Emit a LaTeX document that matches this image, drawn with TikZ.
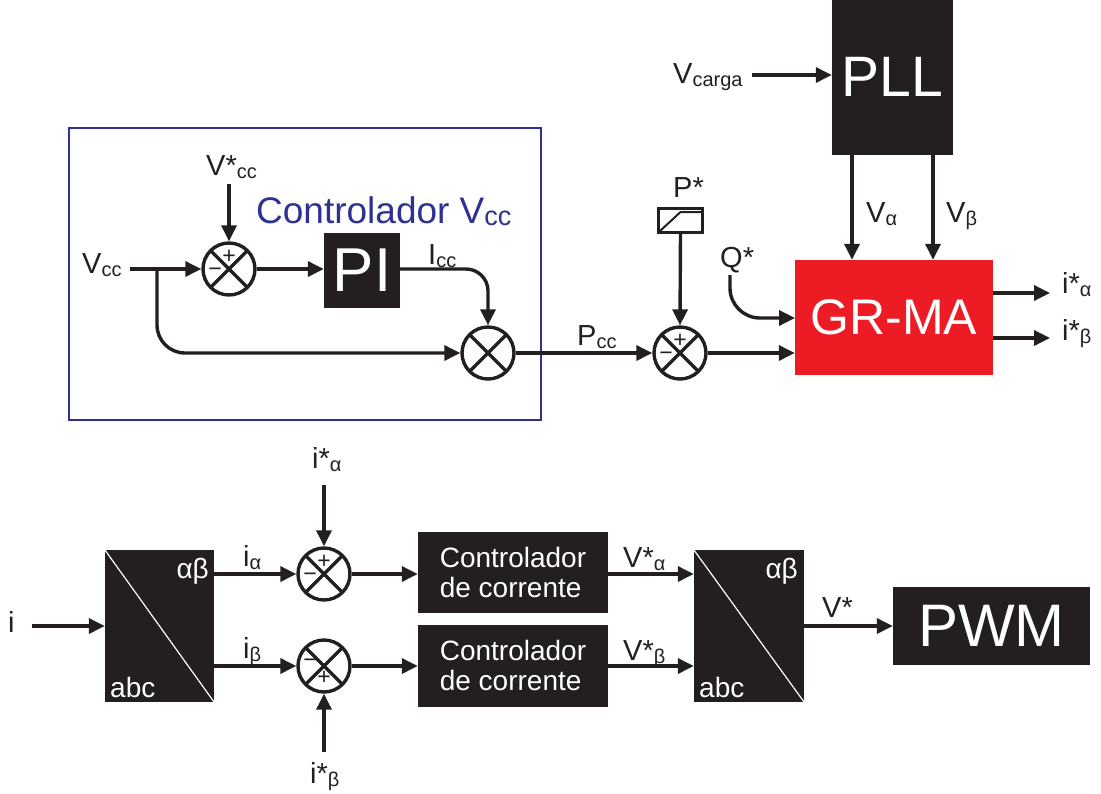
\documentclass[tikz,border=0pt]{standalone}
\usepackage{fontspec}
\setmainfont{Liberation Sans}
\usetikzlibrary{arrows.meta,calc}
\definecolor{blk}{HTML}{231F20}
\definecolor{rd}{HTML}{ED1C24}
\definecolor{bl}{HTML}{2E3192}
\newcommand{\mysub}[1]{\raisebox{-3pt}{\fontsize{20}{20}\selectfont #1}}
\begin{document}
\begin{tikzpicture}[x=1pt,y=-1pt,
  line/.style={line width=3.4pt, draw=blk},
  arr/.style={line, -{Triangle[length=16pt,width=15pt]}},
  sum/.style={circle, draw=blk, line width=3.4pt, minimum size=52pt, inner sep=0pt,
    path picture={\draw[blk,line width=3.4pt] (path picture bounding box.north west) -- (path picture bounding box.south east)
      (path picture bounding box.north east) -- (path picture bounding box.south west);}},
  blkbox/.style={fill=blk, draw=none, text=white, inner sep=0pt},
  lbl/.style={font=\fontsize{29}{30}\selectfont, inner sep=0pt, anchor=base west, text=blk},
  wlbl/.style={font=\fontsize{28}{30}\selectfont, inner sep=0pt, text=white},
  sign/.style={font=\fontsize{23}{23}\selectfont, inner sep=0pt, text=blk}
]
\useasboundingbox (0,0) rectangle (1101,793);

% ---------- upper part ----------
\node[draw=bl, line width=1.3pt, minimum width=472pt, minimum height=292pt, inner sep=0pt] (frame) at (305,274) {};
\node[anchor=base west, inner sep=0pt, text=bl, font=\fontsize{37}{40}\selectfont] (ctitle) at (256,223)
  {Controlador V\raisebox{-2pt}{\fontsize{27}{27}\selectfont cc}};

\node[sum] (s1) at (229,269) {};
\node[sum] (s2) at (488,353) {};
\node[sum] (s3) at (680,353) {};
\node[sign] (s1p) at ($(s1)+(0,-12)$) {+};
\node[sign] (s1m) at ($(s1)+(-14,3)$) {−};
\node[sign] (s3p) at ($(s3)+(0,-12)$) {+};
\node[sign] (s3m) at ($(s3)+(-14,3)$) {−};

\node[blkbox, minimum width=76pt, minimum height=75pt, font=\fontsize{62}{62}\selectfont] (pi) at (362,270.5) {PI};
\node[draw=blk, line width=3pt, fill=white, minimum width=44pt, minimum height=24pt, inner sep=0pt] (sat) at (680.5,220.5) {};
\draw[blk, line width=2pt] ($(sat.south west)+(3,-3)$) -- ($(sat.north)+(0,5)$) -- ($(sat.north east)+(-2,5)$);

\node[fill=rd, minimum width=198pt, minimum height=115pt, inner sep=0pt, text=white, font=\fontsize{50}{50}\selectfont] (gr) at (894,317.5) {GR-MA};
\node[blkbox, minimum width=121pt, minimum height=157pt, font=\fontsize{57}{57}\selectfont] (pll) at (892.5,76.5) {PLL};

% labels upper
\node[lbl] (lvcc) at (82,273) {V\mysub{cc}};
\node[lbl] (lvref) at (206,175) {V*\mysub{cc}};
\node[lbl] (licc) at (428,264) {I\mysub{cc}};
\node[lbl] (lpcc) at (577,345) {P\mysub{cc}};
\node[lbl] (lpref) at (673,197) {P*};
\node[lbl] (lqref) at (720,267) {Q*};
\node[lbl] (lva) at (866,222) {V\mysub{α}};
\node[lbl] (lvb) at (946,222) {V\mysub{β}};
\node[lbl] (lvcar) at (673,83) {V\mysub{carga}};
\node[lbl] (lia) at (1062,293) {i*\mysub{α}};
\node[lbl] (lib) at (1062,340) {i*\mysub{β}};

\coordinate (vin) at (130,269);
\coordinate (br) at (157,269);
\coordinate (vr0) at (229,184);
\coordinate (q0) at (730,275);
\coordinate (q1) at (795,318);
\coordinate (oa) at (1050,293);
\coordinate (ob) at (1050,338);
\coordinate (xa) at (852,0);
\coordinate (xb) at (933,0);
\coordinate (vc0) at (752,75);

\draw[arr] (vin) -- (s1.west);
\draw[arr] (vr0) -- (s1.north);
\draw[arr, rounded corners=28pt] (br) -- (br |- s2) -- (s2.west);
\draw[arr] (s1.east) -- (pi.west |- s1);
\draw[arr, rounded corners=22pt] (pi.east |- s1) -- (s1 -| s2) -- (s2.north);
\draw[arr] (s2.east) -- (s3.west);
\draw[arr] (sat.south) -- (s3.north);
\draw[arr] (s3.east) -- (gr.west |- s3);
\draw[arr, rounded corners=30pt] (q0) -- (q0 |- q1) -- (q1);
\draw[arr] (gr.east |- oa) -- (oa);
\draw[arr] (gr.east |- ob) -- (ob);
\draw[arr] (pll.south -| xa) -- (gr.north -| xa);
\draw[arr] (pll.south -| xb) -- (gr.north -| xb);
\draw[arr] (vc0) -- (pll.west |- vc0);

% ---------- lower part ----------
\node[blkbox, minimum width=109pt, minimum height=152pt] (t1) at (159.5,626) {};
\draw[white, line width=1.2pt] (t1.north west) -- (t1.south east);
\node[wlbl, anchor=base east] (t1ab) at (209,578) {αβ};
\node[wlbl, anchor=base west] (t1abc) at (110,697) {abc};

\node[blkbox, minimum width=110pt, minimum height=152pt] (t2) at (749,626) {};
\draw[white, line width=1.2pt] (t2.north west) -- (t2.south east);
\node[wlbl, anchor=base east] (t2ab) at (798,578) {αβ};
\node[wlbl, anchor=base west] (t2abc) at (699,697) {abc};

\node[sum] (s4) at (324,574) {};
\node[sum] (s5) at (324,666) {};
\node[sign] (s4p) at ($(s4)+(0,-12)$) {+};
\node[sign] (s4m) at ($(s4)+(-14,3)$) {−};
\node[sign] (s5m) at ($(s5)+(-14,-3)$) {−};
\node[sign] (s5p) at ($(s5)+(0,12)$) {+};

\node[blkbox, minimum width=190pt, minimum height=81pt, align=left, font=\fontsize{28}{30}\selectfont] (c1) at (513,572.5) {Controlador\\de corrente};
\node[blkbox, minimum width=190pt, minimum height=82pt, align=left, font=\fontsize{28}{30}\selectfont] (c2) at (513,665.5) {Controlador\\de corrente};

\node[blkbox, minimum width=197pt, minimum height=78pt, font=\fontsize{60}{60}\selectfont] (pwm) at (991.5,626) {PWM};

\node[lbl] (li) at (8,632) {i};
\node[lbl] (lia2) at (243,566) {i\mysub{α}};
\node[lbl] (lib2) at (243,658) {i\mysub{β}};
\node[lbl] (liar) at (312,468) {i*\mysub{α}};
\node[lbl] (libr) at (310,783) {i*\mysub{β}};
\node[lbl] (lva2) at (623,567) {V*\mysub{α}};
\node[lbl] (lvb2) at (623,660) {V*\mysub{β}};
\node[lbl] (lvs) at (822,617) {V*};

\coordinate (i0) at (32,626);
\coordinate (ia0) at (324,485);
\coordinate (ib0) at (324,752);

\draw[arr] (i0) -- (t1.west |- i0);
\draw[arr] (t1.east |- s4) -- (s4.west);
\draw[arr] (t1.east |- s5) -- (s5.west);
\draw[arr] (ia0) -- (s4.north);
\draw[arr] (ib0) -- (s5.south);
\draw[arr] (s4.east) -- (c1.west |- s4);
\draw[arr] (s5.east) -- (c2.west |- s5);
\draw[arr] (c1.east |- s4) -- (t2.west |- s4);
\draw[arr] (c2.east |- s5) -- (t2.west |- s5);
\draw[arr] (t2.east) -- (pwm.west);
\end{tikzpicture}
\end{document}
